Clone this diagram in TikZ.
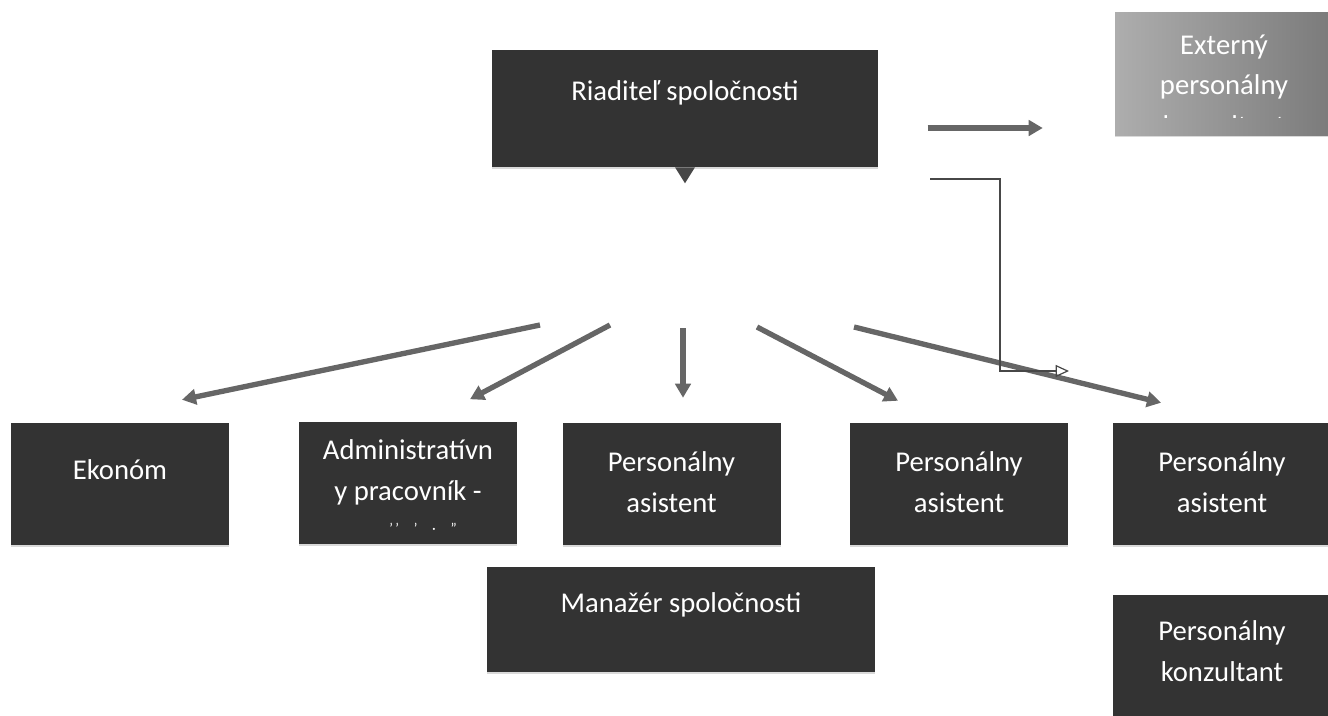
\documentclass[tikz,border=0pt]{standalone}
\usepackage{fontspec}
\setmainfont{Carlito}
\usetikzlibrary{arrows.meta, shadows}

\begin{document}
\begin{tikzpicture}[
    x=0.75pt, y=-0.75pt,
    box/.style={fill=black!80, minimum width=163.5pt, minimum height=91.5pt,
        drop shadow={shadow xshift=0pt, shadow yshift=-1.5pt, opacity=0.3}},
    wide box/.style={box, minimum width=290pt, minimum height=87.75pt},
    lbl/.style={text=white, align=center, inner sep=0pt,
        font=\fontsize{21.5}{30.5}\selectfont},
    arr/.style={draw=black!60, line width=4pt, -{Triangle[length=10.5pt, width=11.5pt]}},
    elbow/.style={draw=black!72, line width=0.9pt, -{Triangle[open, length=10pt, width=9pt]}}
]
\useasboundingbox (0,0) rectangle (1328,715);

% Vedenie
\node[wide box] (dir) at (685,108.5) {};
\node[lbl] (dir-t) at ([shift={(0,-15.5)}]dir.center) {Riaditeľ spoločnosti};
\fill[black!72] ([xshift=-7.5pt]dir.south) -- ([xshift=7.5pt]dir.south)
    -- ([yshift=-12pt]dir.south) -- cycle;

\node[wide box, minimum width=291pt, minimum height=78.75pt] (mgr) at (681,619.5) {};
\node[lbl] (mgr-t) at ([shift={(0,-14.5)}]mgr.center) {Manažér spoločnosti};

% Externista
\node[box, minimum height=92.25pt, left color=black!32, right color=black!52] (ext) at (1224,73.5) {};
\begin{scope}
  \clip (ext.north west) rectangle ([yshift=13pt]ext.south east);
  \node[lbl] (ext-t) at ([shift={(0,11.5)}]ext.center) {Externý\\personálny\\konzultant};
\end{scope}

% Podriadeni
\node[box] (eko) at (120,484) {};
\node[lbl] (eko-t) at ([shift={(0,-14)}]eko.center) {Ekonóm};

\node[box] (adm) at (408,482.5) {};
\node[lbl] (adm-t) at ([shift={(0,-10)}]adm.center) {Administratívn\\y pracovník -};
\node[lbl, font=\fontsize{11}{13}\selectfont] (adm-m) at ([shift={(15,45.5)}]adm.center)
    {’\,’\quad ’\quad ·\quad ”};

\node[box] (pa1) at (671.5,484) {};
\node[lbl] (pa1-t) at ([shift={(0,-2)}]pa1.center) {Personálny\\asistent};

\node[box] (pa2) at (959,484) {};
\node[lbl] (pa2-t) at ([shift={(0,-2)}]pa2.center) {Personálny\\asistent};

\node[box] (pa3) at (1222,484) {};
\node[lbl] (pa3-t) at ([shift={(0,-2)}]pa3.center) {Personálny\\asistent};

\node[box] (kon) at (1222,656) {};
\node[lbl] (kon-t) at ([shift={(0,-5)}]kon.center) {Personálny\\konzultant};

% Spojnice
\coordinate (f1) at (540,325);
\coordinate (f2) at (610,325);
\coordinate (f3) at (683,328);
\coordinate (f4) at (757,327);
\coordinate (f5) at (854,327);
\draw[arr] (f1) -- ([shift={(62,-23)}]eko.north);
\draw[arr] (f2) -- ([shift={(62,-22)}]adm.north);
\draw[arr] (f3) -- ([shift={(11.5,-25)}]pa1.north);
\draw[arr] (f4) -- ([shift={(-61,-22)}]pa2.north);
\draw[arr] (f5) -- ([shift={(-61,-20)}]pa3.north);

\draw[arr] ([shift={(49,19.5)}]dir.east) -- ([shift={(-72,54.5)}]ext.west);

\coordinate (e0) at (930,179);
\coordinate (e1) at (1069,371);
\draw[elbow] (e0) -- ++(70,0) |- (e1);

\end{tikzpicture}
\end{document}
